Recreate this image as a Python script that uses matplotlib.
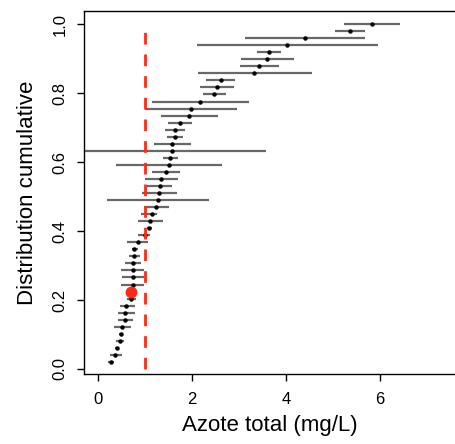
import numpy as np
import matplotlib
matplotlib.use("Agg")
import matplotlib.pyplot as plt

plt.rcParams['font.family'] = ['Liberation Sans', 'DejaVu Sans']

# total nitrogen per site (mg/L), sorted bottom to top, with interval bounds
azote = [0.27, 0.37, 0.40, 0.47, 0.48, 0.51, 0.57, 0.58, 0.60, 0.70,
         0.71, 0.74, 0.74, 0.74, 0.75, 0.77, 0.77, 0.84, 0.99, 1.09,
         1.11, 1.14, 1.23, 1.28, 1.30, 1.31, 1.33, 1.44, 1.51, 1.54,
         1.57, 1.58, 1.64, 1.64, 1.74, 1.94, 1.98, 2.18, 2.47, 2.54,
         2.61, 3.33, 3.43, 3.60, 3.63, 4.03, 4.40, 5.37, 5.84]
low = [0.21, 0.26, 0.37, 0.38, 0.44, 0.34, 0.43, 0.42, 0.46, 0.62,
       0.71, 0.48, 0.50, 0.48, 0.57, 0.65, 0.72, 0.61, 0.85, 1.04,
       0.84, 0.92, 0.98, 0.19, 0.94, 1.05, 1.00, 1.14, 0.38, 1.39,
       -2.5, 1.19, 1.47, 1.42, 1.48, 1.33, 1.00, 1.15, 2.23, 2.18,
       2.30, 2.13, 3.03, 3.04, 3.38, 2.11, 3.12, 5.05, 5.24]
high = [0.34, 0.50, 0.43, 0.55, 0.52, 0.70, 0.74, 0.78, 0.79, 0.81,
        0.71, 0.98, 0.98, 0.98, 0.92, 0.89, 0.84, 1.06, 1.10, 1.14,
        1.38, 1.25, 1.50, 2.37, 1.68, 1.58, 1.70, 1.74, 2.64, 1.70,
        3.58, 1.97, 1.80, 1.86, 1.99, 2.55, 2.96, 3.21, 2.73, 2.89,
        2.91, 4.55, 3.85, 4.17, 3.89, 5.96, 5.69, 5.69, 6.43]
highlight_idx = 10   # site shown in red
seuil = 1.0          # threshold line (mg/L)

x_ticks = [0, 2, 4, 6]
y_ticks = [0.0, 0.2, 0.4, 0.6, 0.8, 1.0]

n = len(azote)
cum = np.arange(1, n + 1) / n  # empirical cumulative rank

fig = plt.figure(figsize=(4.55, 4.44), dpi=100)
ax = fig.add_axes([0.1846, 0.1577, 0.8154, 0.8175])

others = [i for i in range(n) if i != highlight_idx]
ax.hlines([cum[i] for i in others], [low[i] for i in others],
          [high[i] for i in others], color='#686868', lw=1.6, zorder=2)
ax.plot([azote[i] for i in others], [cum[i] for i in others], 'o',
        color='black', ms=2.2, zorder=3)
ax.plot(azote[highlight_idx], cum[highlight_idx], 'o', color='#ff2a14',
        ms=7.5, zorder=4)

ax.plot([seuil, seuil], [0, 1], color='#ff2a14', lw=2,
        dashes=(4.2, 3.6), zorder=5)

ax.set_xlim(-0.3, 7.6)
ax.set_ylim(-0.0145, 1.038)
ax.set_xticks(x_ticks)
ax.set_xticklabels([str(t) for t in x_ticks])
ax.set_yticks(y_ticks)
ax.set_yticklabels([f"{t:.1f}" for t in y_ticks], rotation=90, va='center')
ax.tick_params(axis='both', length=5, width=1, labelsize=12, pad=7)
ax.tick_params(axis='x', pad=8)
ax.spines['right'].set_visible(False)
for s in ['left', 'top', 'bottom']:
    ax.spines[s].set_linewidth(1.0)

ax.set_xlabel("Azote total (mg/L)", fontsize=16, labelpad=6)
ax.set_ylabel("Distribution cumulative", fontsize=16, labelpad=10)

fig.savefig("out.png", dpi=100)
